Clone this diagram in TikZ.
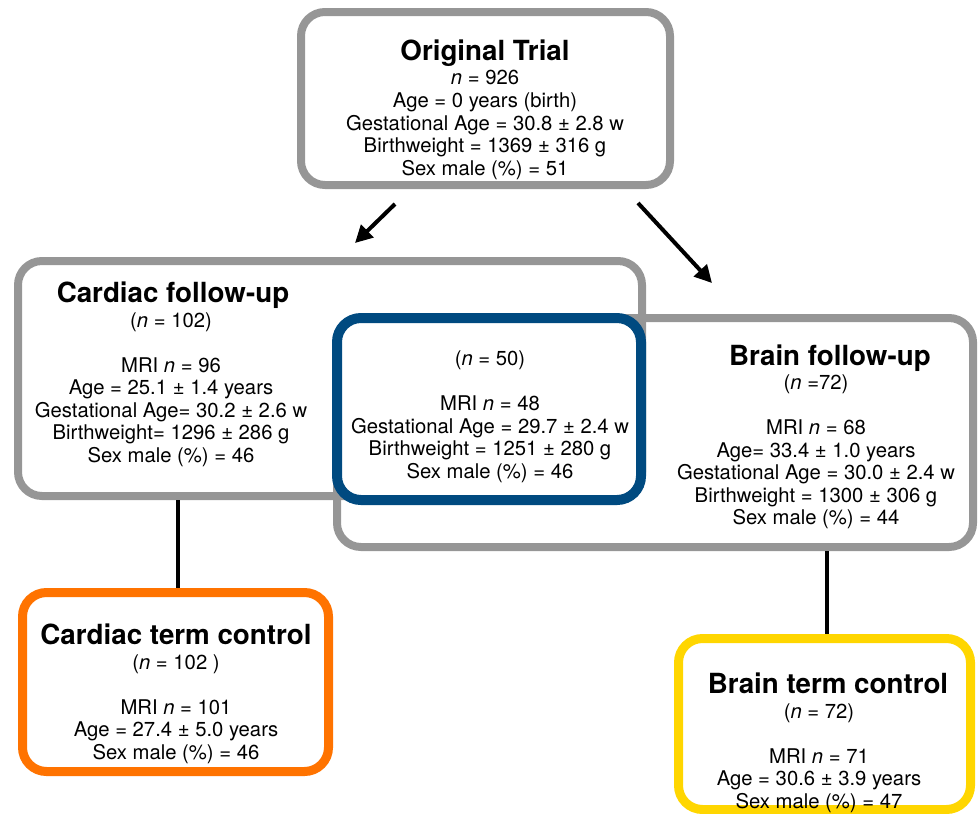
\documentclass[tikz,border=0pt]{standalone}
\usepackage{fontspec}
\setmainfont{TeX Gyre Heros}
\usetikzlibrary{arrows.meta}
\definecolor{boxgray}{RGB}{150,150,150}
\definecolor{boxblue}{RGB}{0,74,128}
\definecolor{boxorange}{RGB}{255,115,0}
\definecolor{boxyellow}{RGB}{255,214,0}
\begin{document}
\begin{tikzpicture}[x=0.75pt,y=-0.75pt,
  box/.style={draw, rectangle, rounded corners=18pt, line width=6pt, inner sep=0pt},
  graybox/.style={box, draw=boxgray},
  title/.style={anchor=base, inner sep=0pt, font=\fontsize{20.8pt}{22pt}\selectfont\bfseries},
  body/.style={align=center, inner sep=0pt, font=\fontsize{15.2pt}{16.9pt}\selectfont},
  arrowline/.style={line width=3pt, -{Triangle[length=13pt,width=13pt]}},
  connline/.style={line width=2.8pt}]
\useasboundingbox (0,0) rectangle (979,814);
% boxes
\node[graybox, minimum width=276.75pt, minimum height=129.75pt] (orig) at (485.5,98.5) {};
\node[graybox, minimum width=468pt, minimum height=176.25pt] (cardbox) at (330,378.5) {};
\node[graybox, minimum width=477pt, minimum height=171.75pt] (brainbox) at (655,432.5) {};
\node[box, draw=boxblue, fill=white, line width=7.5pt, minimum width=228pt, minimum height=136.5pt] (both) at (489,409) {};
\node[box, draw=boxorange, line width=6.75pt, minimum width=229.5pt, minimum height=134.25pt] (cterm) at (175.5,682) {};
\node[box, draw=boxyellow, line width=6.75pt, minimum width=219pt, minimum height=128.25pt] (bterm) at (824.5,724) {};
% titles
\node[title] (origt) at (485,60) {Original Trial};
\node[title] (cardt) at (173,302) {Cardiac follow-up};
\node[title] (braint) at (830,365) {Brain follow-up};
\node[title] (ctermt) at (176,644) {Cardiac term control};
\node[title] (btermt) at (828,693) {Brain term control};
% bodies
\node[body] (origb) at (485,125) {\textit{n} = 926\\Age = 0 years (birth)\\Gestational Age = 30.8 ± 2.8 w\\Birthweight = 1369 ± 316 g\\Sex male (\%) = 51};
\node[body] (cardb) at (171,389.5) {(\textit{n} = 102)\\[16.9pt]MRI \textit{n} = 96\\Age = 25.1 ± 1.4 years\\Gestational Age= 30.2 ± 2.6 w\\Birthweight= 1296 ± 286 g\\Sex male (\%) = 46};
\node[body] (bothb) at (490,416.5) {(\textit{n} = 50)\\[16.9pt]MRI \textit{n} = 48\\Gestational Age = 29.7 ± 2.4 w\\Birthweight = 1251 ± 280 g\\Sex male (\%) = 46};
\node[body] (brainb) at (816,452) {(\textit{n} =72)\\[16.9pt]MRI \textit{n} = 68\\Age= 33.4 ± 1.0 years\\Gestational Age = 30.0 ± 2.4 w\\Birthweight = 1300 ± 306 g\\Sex male (\%) = 44};
\node[body] (ctermb) at (176,709) {(\textit{n} = 102 )\\[16.9pt]MRI \textit{n} = 101\\Age = 27.4 ± 5.0 years\\Sex male (\%) = 46};
\node[body] (btermb) at (819,758) {(\textit{n} = 72)\\[16.9pt]MRI \textit{n} = 71\\Age = 30.6 ± 3.9 years\\Sex male (\%) = 47};
% arrows
\coordinate (a1s) at (395,204);
\coordinate (a1e) at (355,243);
\coordinate (a2s) at (638,203);
\coordinate (a2e) at (712,283);
\draw[arrowline] (a1s) -- (a1e);
\draw[arrowline] (a2s) -- (a2e);
% connectors to controls
\coordinate (c1) at (178,0);
\coordinate (c2) at (827,0);
\draw[connline] (cardbox.south -| c1) -- (cterm.north -| c1);
\draw[connline] (brainbox.south -| c2) -- (bterm.north -| c2);
\end{tikzpicture}
\end{document}
